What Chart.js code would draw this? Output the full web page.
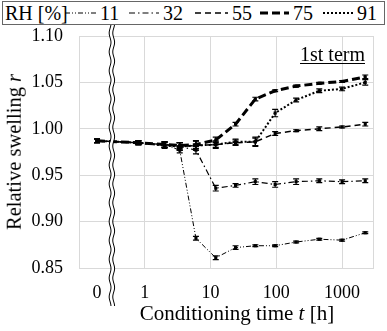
<!DOCTYPE html>
<html>
<head>
<meta charset="utf-8">
<script src="https://cdn.jsdelivr.net/npm/chart.js@4"></script>
<style>
  body { margin: 0; background: #fff; }
  #wrap { position: relative; width: 387px; height: 331px; font-family: 'Liberation Serif', serif; color: #000; }
  #myChart { position: absolute; left: 0; top: 0; }
  #legend { position: absolute; left: 2px; top: 1px; width: 381px; height: 22px; border: 1px solid #666; background: #fff; }
  #legend span, #legend svg { position: absolute; }
  #legend span { font-size: 20px; line-height: 22px; top: 0; white-space: nowrap; }
  #legend svg { top: 9px; }
  .title { position: absolute; white-space: nowrap; line-height: 1; }
  #ytitle { left: 14px; top: 152px; font-size: 20.5px; transform: translate(-50%, -50%) rotate(-90deg); }
  #xtitle { left: 237px; top: 313px; font-size: 21px; transform: translate(-50%, -50%); }
  #term { left: 300px; top: 44px; font-size: 20px; text-decoration: underline; text-underline-offset: 2px; text-decoration-thickness: 1px; }
</style>
</head>
<body>
<div id="wrap">
  <canvas id="myChart" width="387" height="331"></canvas>
  <div id="legend"></div>
  <div class="title" id="ytitle">Relative swelling <i>r</i></div>
  <div class="title" id="xtitle">Conditioning time <i>t</i> [h]</div>
  <div class="title" id="term">1st term</div>
</div>
<script>
// conditioning time [h]
const hours = [0, 0.8, 2, 3.4, 6, 12, 24, 48, 96, 200, 450, 1000, 2250];

// relative swelling r for each RH
const rh11 = [0.987, 0.985, 0.983, 0.977, 0.882, 0.861, 0.872, 0.874, 0.874, 0.878, 0.881, 0.880, 0.888];
const rh32 = [0.987, 0.985, 0.983, 0.981, 0.977, 0.936, 0.939, 0.943, 0.940, 0.943, 0.944, 0.943, 0.944];
const rh55 = [0.987, 0.985, 0.983, 0.981, 0.982, 0.983, 0.985, 0.986, 0.995, 0.998, 1.000, 1.002, 1.005];
const rh75 = [0.987, 0.985, 0.983, 0.982, 0.983, 0.988, 1.005, 1.032, 1.041, 1.046, 1.049, 1.051, 1.056];
const rh91 = [0.987, 0.985, 0.982, 0.981, 0.982, 0.983, 0.986, 0.986, 1.017, 1.031, 1.041, 1.043, 1.050];

// error bars (+/-)
const rh11Err = [0.002, 0.002, 0.003, 0.003, 0.002, 0.002, 0.002, 0.001, 0.001, 0.001, 0.001, 0.001, 0.001];
const rh32Err = [0.002, 0.002, 0.003, 0.004, 0.004, 0.003, 0.002, 0.003, 0.003, 0.003, 0.002, 0.002, 0.002];
const rh55Err = [0.002, 0.002, 0.003, 0.004, 0.005, 0.003, 0.003, 0.005, 0.002, 0.001, 0.002, 0.001, 0.002];
const rh75Err = [0.002, 0.002, 0.003, 0.003, 0.004, 0.003, 0.002, 0.002, 0.001, 0.001, 0.001, 0.001, 0.002];
const rh91Err = [0.002, 0.002, 0.003, 0.004, 0.005, 0.004, 0.003, 0.004, 0.004, 0.002, 0.002, 0.002, 0.003];

const rhLabels = ['11', '32', '55', '75', '91'];
const yTicks = [0.85, 0.90, 0.95, 1.00, 1.05, 1.10];
const xTickHours = [0, 1, 10, 100, 1000];

// log axis with t=0 put left of the break
const ZERO_POS = -0.726;
const BREAK_POS = -0.5;
function toAxis(t) { return t === 0 ? ZERO_POS : Math.log10(t); }

const styles = [
    { dash: [5, 2, 1, 2, 1, 2], width: 1 },
    { dash: [6, 3, 1.5, 3], width: 1.2 },
    { dash: [6, 4], width: 1.5 },
    { dash: [8, 4], width: 3 },
    { dash: [2, 2], width: 2 }
];
const series = [rh11, rh32, rh55, rh75, rh91];
const errors = [rh11Err, rh32Err, rh55Err, rh75Err, rh91Err];

const datasets = series.map(function(vals, i) {
    return {
        label: rhLabels[i],
        data: hours.map((t, j) => ({ x: toAxis(t), y: vals[j] })),
        errors: errors[i],
        borderColor: '#000',
        backgroundColor: '#000',
        borderWidth: styles[i].width,
        borderDash: styles[i].dash,
        pointStyle: 'rect',
        pointRadius: 2.2,
        pointBorderWidth: 0,
        tension: 0
    };
});

// legend (html)
const legend = document.getElementById('legend');
const legendPos = [[62, 97], [126, 160], [192, 229], [257, 290], [320, 354]];
let html = '<span style="left:2px">RH [%]</span>';
rhLabels.forEach(function(lab, i) {
    const w = legendPos[i][1] - legendPos[i][0] - 4;
    html += '<svg width="' + w + '" height="4" style="left:' + legendPos[i][0] + 'px">' +
        '<line x1="0" y1="2" x2="' + w + '" y2="2" stroke="#000" stroke-width="' + styles[i].width +
        '" stroke-dasharray="' + styles[i].dash.join(' ') + '"/></svg>';
    html += '<span style="left:' + legendPos[i][1] + 'px">' + lab + '</span>';
});
legend.innerHTML = html;

const errorBars = {
    id: 'errorBars',
    afterDatasetsDraw(chart) {
        const ctx = chart.ctx;
        const y = chart.scales.y;
        ctx.save();
        ctx.strokeStyle = '#000';
        ctx.lineWidth = 1.2;
        ctx.setLineDash([]);
        chart.data.datasets.forEach(function(ds, i) {
            const meta = chart.getDatasetMeta(i);
            meta.data.forEach(function(pt, j) {
                const v = ds.data[j].y, e = ds.errors[j];
                const top = y.getPixelForValue(v + e), bot = y.getPixelForValue(v - e);
                ctx.beginPath();
                ctx.moveTo(pt.x, top); ctx.lineTo(pt.x, bot);
                ctx.moveTo(pt.x - 3, top); ctx.lineTo(pt.x + 3, top);
                ctx.moveTo(pt.x - 3, bot); ctx.lineTo(pt.x + 3, bot);
                ctx.stroke();
            });
        });
        ctx.restore();
    }
};

// double wavy break line
const axisBreak = {
    id: 'axisBreak',
    afterDraw(chart) {
        const ctx = chart.ctx;
        const xc = chart.scales.x.getPixelForValue(BREAK_POS);
        const y0 = 25, y1 = 306;
        function wave(off) {
            ctx.beginPath();
            for (let yy = y0; yy <= y1; yy++) {
                const xx = xc + off + Math.sin(yy / 3) * 0.9;
                if (yy === y0) ctx.moveTo(xx, yy); else ctx.lineTo(xx, yy);
            }
            ctx.stroke();
        }
        ctx.save();
        ctx.setLineDash([]);
        ctx.strokeStyle = '#fff';
        ctx.lineWidth = 3;
        wave(0);
        ctx.strokeStyle = '#000';
        ctx.lineWidth = 1;
        wave(-1.8);
        wave(1.8);
        ctx.restore();
    }
};

const ctx = document.getElementById('myChart').getContext('2d');
new Chart(ctx, {
    type: 'line',
    data: { datasets: datasets },
    plugins: [errorBars, axisBreak],
    options: {
        responsive: false,
        animation: false,
        layout: { padding: { top: 36, right: 6, left: 0, bottom: 0 } },
        plugins: { legend: { display: false }, tooltip: { enabled: false } },
        scales: {
            x: {
                type: 'linear',
                min: -1,
                max: 3.47,
                afterFit: function(scale) { scale.height = 63; },
                afterBuildTicks: function(scale) {
                    scale.ticks = [-1].concat(xTickHours.map(toAxis), [3.47]).map(v => ({ value: v }));
                },
                grid: {
                    drawTicks: false,
                    color: function(c) {
                        return (c.tick && c.tick.value === ZERO_POS) ? 'rgba(0,0,0,0)' : '#d9d9d9';
                    }
                },
                border: { display: true, color: '#d9d9d9' },
                ticks: {
                    padding: 14,
                    maxRotation: 0,
                    autoSkip: false,
                    color: '#000',
                    font: { family: 'Liberation Serif', size: 18 },
                    callback: function(value) {
                        const idx = xTickHours.findIndex(t => Math.abs(toAxis(t) - value) < 1e-6);
                        return idx >= 0 ? String(xTickHours[idx]) : '';
                    }
                }
            },
            y: {
                min: 0.85,
                max: 1.10,
                afterFit: function(scale) { scale.width = 79; },
                afterBuildTicks: function(scale) {
                    scale.ticks = yTicks.map(v => ({ value: v }));
                },
                grid: { drawTicks: false, color: '#d9d9d9' },
                border: { display: true, color: '#d9d9d9' },
                ticks: {
                    padding: 16,
                    color: '#000',
                    font: { family: 'Liberation Serif', size: 18 },
                    callback: function(value) { return value.toFixed(2); }
                }
            }
        }
    }
});
</script>
</body>
</html>
